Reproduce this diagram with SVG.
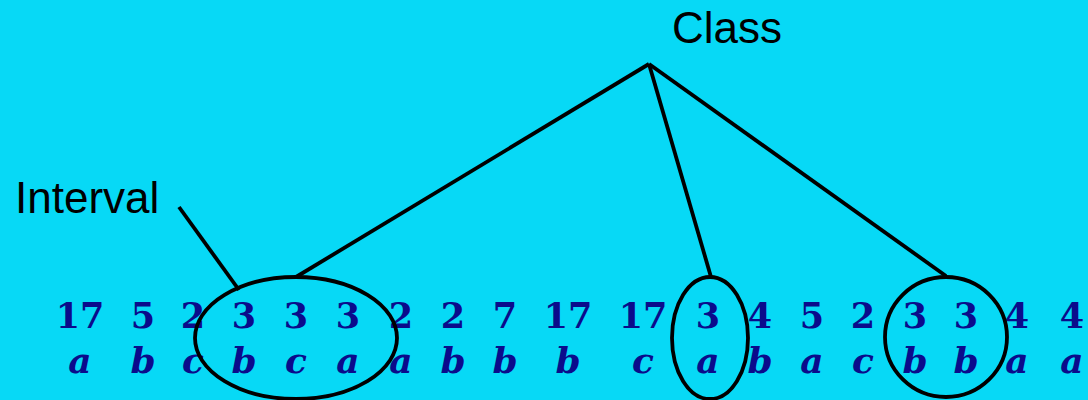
<svg xmlns="http://www.w3.org/2000/svg" width="1088" height="400" viewBox="0 0 1088 400">
<style>
.lbl{font-family:"Liberation Sans",Arial,sans-serif;font-size:44px;fill:#000}
.num{font-family:"DejaVu Serif",serif;font-weight:bold;font-size:35px;fill:#0b0b8b;text-anchor:middle}
.let{font-family:"DejaVu Serif",serif;font-weight:bold;font-style:italic;font-size:36px;fill:#0b0b8b;text-anchor:middle}
.ln{stroke:#000;stroke-width:3.8;fill:none}
</style>
<rect width="1088" height="400" fill="#07d9f6"/>
<g id="class"><text class="lbl" x="672" y="43">Class</text></g>
<g id="interval"><text class="lbl" x="15" y="213">Interval</text></g>
<g id="sequence">
<g class="num">
<text x="80" y="328">17</text><text x="143" y="328">5</text><text x="193" y="328">2</text><text x="244" y="328">3</text><text x="296" y="328">3</text><text x="348" y="328">3</text><text x="401" y="328">2</text><text x="453" y="328">2</text><text x="505" y="328">7</text><text x="568" y="328">17</text><text x="643" y="328">17</text><text x="708" y="328">3</text><text x="760" y="328">4</text><text x="812" y="328">5</text><text x="863" y="328">2</text><text x="915" y="328">3</text><text x="966" y="328">3</text><text x="1017" y="328">4</text><text x="1072" y="328">4</text>
</g>
<g class="let">
<text x="80" y="373">a</text><text x="143" y="373">b</text><text x="193" y="373">c</text><text x="244" y="373">b</text><text x="296" y="373">c</text><text x="348" y="373">a</text><text x="401" y="373">a</text><text x="453" y="373">b</text><text x="505" y="373">b</text><text x="568" y="373">b</text><text x="643" y="373">c</text><text x="708" y="373">a</text><text x="760" y="373">b</text><text x="812" y="373">a</text><text x="863" y="373">c</text><text x="915" y="373">b</text><text x="966" y="373">b</text><text x="1017" y="373">a</text><text x="1072" y="373">a</text>
</g>
</g>
<g id="interval-ellipse"><ellipse class="ln" cx="296" cy="338" rx="101" ry="61"/></g>
<g id="ellipse-2"><ellipse class="ln" cx="710" cy="338" rx="38" ry="61"/></g>
<g id="ellipse-3"><ellipse class="ln" cx="946" cy="337" rx="61" ry="60"/></g>
<g id="connectors">
<line class="ln" x1="649" y1="64" x2="296" y2="277"/>
<line class="ln" x1="649" y1="64" x2="711" y2="277"/>
<line class="ln" x1="649" y1="64" x2="946" y2="276"/>
<line class="ln" x1="179" y1="207" x2="239" y2="290"/>
</g>
</svg>
